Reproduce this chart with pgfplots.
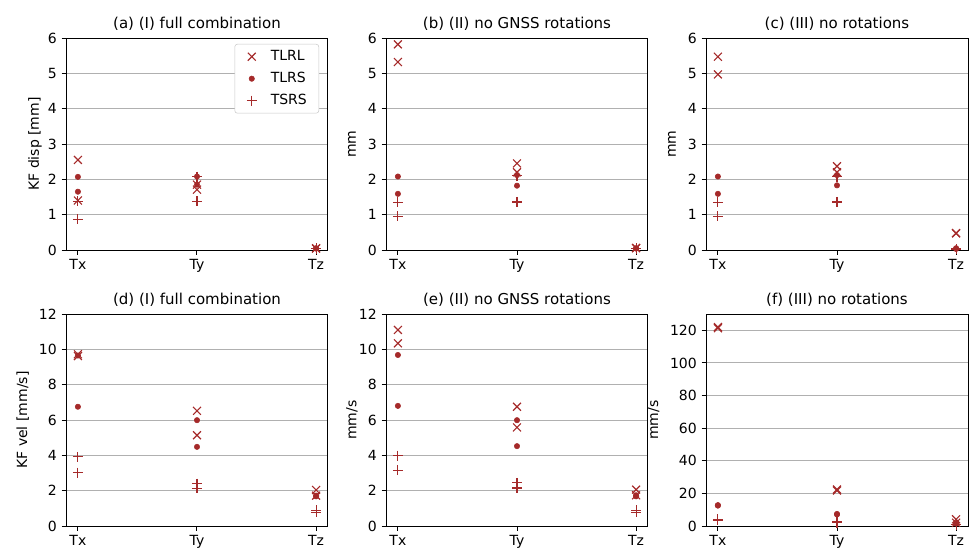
\documentclass[border=0pt]{standalone}
\usepackage{pgfplots}
\pgfplotsset{compat=1.18}
\usepackage{fontspec}
\setmainfont{DejaVu Sans}
\definecolor{mk}{RGB}{165,42,42}
\definecolor{gr}{RGB}{176,176,176}
\newcommand{\px}{0.75bp}
\pgfplotsset{
  myax/.style={
    scale only axis,
    width=262*\px, height=212*\px,
    anchor=north west,
    xmin=-0.1, xmax=2.1,
    xtick={0,1,2}, xticklabels={Tx,Ty,Tz},
    tick align=outside, xtick pos=bottom, ytick pos=left,
    major tick length=4.5*\px,
    tick style={black, line width=0.75bp},
    axis line style={line width=0.75bp},
    ymajorgrids, grid style={gr, line width=0.75bp},
    /pgf/number format/assume math mode=true,
    tick label style={font=\fontsize{10.5bp}{12bp}\selectfont},
    label style={font=\fontsize{10.5bp}{12bp}\selectfont},
    title style={font=\fontsize{11.25bp}{13bp}\selectfont, at={(0.5,1)}, anchor=base, yshift=2*\px},
    ylabel style={at={(axis description cs:-0.118,0.5)}, anchor=center},
    clip=false,
  },
  sA/.style={only marks, mark=x, mark size=5.6*\px, color=mk, mark options={draw=mk, line width=0.85bp}},
  sB/.style={only marks, mark=*, mark size=2.7*\px, color=mk, mark options={draw=none, fill=mk}},
  sC/.style={only marks, mark=+, mark size=5*\px, color=mk, mark options={draw=mk, line width=0.85bp}},
}
\begin{document}
\begin{tikzpicture}
\path[use as bounding box] (0,0) rectangle (970*\px,-550*\px);
% (a)
\begin{axis}[myax, at={(66*\px,-38*\px)}, ymin=0, ymax=6, ytick={0,1,2,3,4,5,6},
  title={(a) (I) full combination}, ylabel={KF disp [mm]},
  legend image code/.code={\draw[mark repeat=2,mark phase=2,#1] plot coordinates {(0,0) (8.5*\px,0) (17*\px,0)};},
  legend style={at={(0.966,0.972)}, anchor=north east, draw=gr!70, rounded corners=2bp,
    font=\fontsize{10.5bp}{12bp}\selectfont, inner xsep=12*\px, inner ysep=6*\px,
    row sep=9*\px,
    nodes={inner sep=0pt, text height=10*\px, text depth=3*\px},
    /tikz/every odd column/.append style={column sep=14*\px}},
  legend cell align=left]
\addplot[sA] coordinates {(0,2.55) (0,1.40) (1,1.85) (1,1.71) (2,0.05) (2,0.04)};
\addplot[sB] coordinates {(0,2.07) (0,1.65) (1,2.08) (1,1.85) (2,0.05) (2,0.04)};
\addplot[sC] coordinates {(0,1.38) (0,0.87) (1,2.08) (1,1.38) (2,0.05) (2,0.04)};
\legend{TLRL,TLRS,TSRS}
\end{axis}
% (b)
\begin{axis}[myax, at={(386*\px,-38*\px)}, ymin=0, ymax=6, ytick={0,1,2,3,4,5,6},
  title={(b) (II) no GNSS rotations}, ylabel={mm},
  ylabel style={at={(axis description cs:-0.13,0.5)}}]
\addplot[sA] coordinates {(0,5.82) (0,5.32) (1,2.45) (1,2.20) (2,0.06) (2,0.05)};
\addplot[sB] coordinates {(0,2.08) (0,1.59) (1,2.12) (1,1.82) (2,0.05) (2,0.04)};
\addplot[sC] coordinates {(0,1.35) (0,0.95) (1,2.10) (1,1.36) (2,0.05) (2,0.04)};
\end{axis}
% (c)
\begin{axis}[myax, at={(706*\px,-38*\px)}, ymin=0, ymax=6, ytick={0,1,2,3,4,5,6},
  title={(c) (III) no rotations}, ylabel={mm},
  ylabel style={at={(axis description cs:-0.13,0.5)}}]
\addplot[sA] coordinates {(0,5.47) (0,4.97) (1,2.37) (1,2.20) (2,0.48) (2,0.47)};
\addplot[sB] coordinates {(0,2.08) (0,1.59) (1,2.12) (1,1.83) (2,0.05) (2,0.03)};
\addplot[sC] coordinates {(0,1.35) (0,0.96) (1,2.08) (1,1.36) (2,0.03) (2,0.02)};
\end{axis}
% (d)
\begin{axis}[myax, at={(66*\px,-314*\px)}, ymin=0, ymax=12, ytick={0,2,4,6,8,10,12},
  title={(d) (I) full combination}, ylabel={KF vel [mm/s]},
  ylabel style={at={(axis description cs:-0.165,0.5)}}]
\addplot[sA] coordinates {(0,9.72) (0,9.62) (1,6.52) (1,5.14) (2,2.04) (2,1.72)};
\addplot[sB] coordinates {(0,9.65) (0,6.75) (1,5.99) (1,4.48) (2,1.72) (2,1.68)};
\addplot[sC] coordinates {(0,3.91) (0,3.02) (1,2.40) (1,2.14) (2,0.89) (2,0.78)};
\end{axis}
% (e)
\begin{axis}[myax, at={(386*\px,-314*\px)}, ymin=0, ymax=12, ytick={0,2,4,6,8,10,12},
  title={(e) (II) no GNSS rotations}, ylabel={mm/s},
  ylabel style={at={(axis description cs:-0.13,0.5)}}]
\addplot[sA] coordinates {(0,11.10) (0,10.34) (1,6.75) (1,5.58) (2,2.06) (2,1.74)};
\addplot[sB] coordinates {(0,9.68) (0,6.80) (1,5.99) (1,4.52) (2,1.74) (2,1.68)};
\addplot[sC] coordinates {(0,3.99) (0,3.16) (1,2.44) (1,2.15) (2,0.89) (2,0.78)};
\end{axis}
% (f)
\begin{axis}[myax, at={(706*\px,-314*\px)}, ymin=0, ymax=130, ytick={0,20,40,60,80,100,120},
  title={(f) (III) no rotations}, ylabel={mm/s},
  ylabel style={at={(axis description cs:-0.2,0.5)}}]
\addplot[sA] coordinates {(0,122.0) (0,121.3) (1,22.4) (1,21.8) (2,4.1) (2,2.0)};
\addplot[sB] coordinates {(0,12.8) (0,12.5) (1,7.4) (1,7.1) (2,1.7) (2,1.5)};
\addplot[sC] coordinates {(0,4.1) (0,3.6) (1,2.5) (1,2.1) (2,0.9) (2,0.8)};
\end{axis}
\end{tikzpicture}
\end{document}
